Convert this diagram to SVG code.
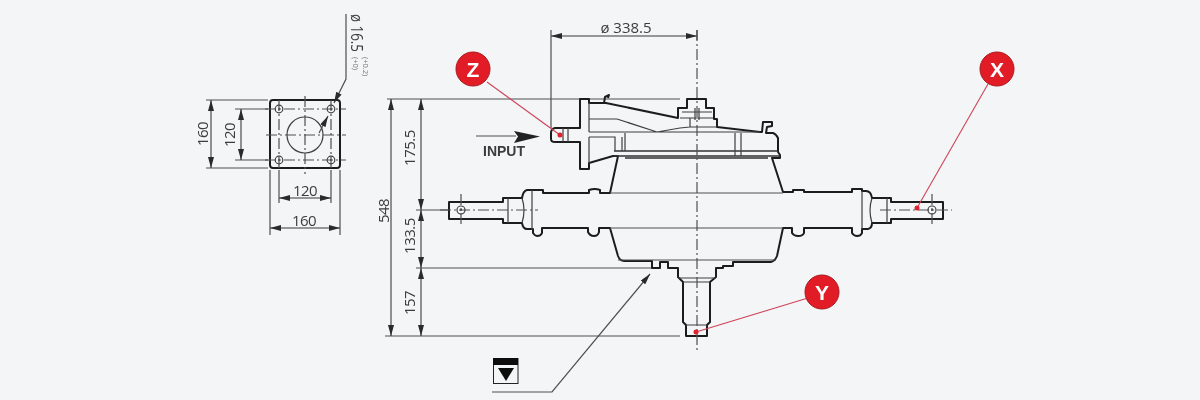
<svg xmlns="http://www.w3.org/2000/svg" width="1200" height="400" viewBox="0 0 1200 400">
<style>
text{font-family:"Open Sans","Noto Sans","Liberation Sans",sans-serif;fill:#3c3c3c}
.d{font-size:15px;text-anchor:middle;letter-spacing:-.5px}
.o{fill:none;stroke:#1f1f1f;stroke-width:2;stroke-linejoin:round}
.i{fill:none;stroke:#3f3f3f;stroke-width:1.200}
.g{fill:none;stroke:#4f4f4f;stroke-width:1.200}
.h{fill:none;stroke:#333;stroke-width:1.500}
.c{fill:none;stroke:#4f4f4f;stroke-width:1.200;stroke-dasharray:11 3 2 3}
.a{fill:none;stroke:#3a3a3a;stroke-width:1.100;marker-start:url(#s);marker-end:url(#e)}
.r{fill:none;stroke:#cf4358;stroke-width:1.100}
.dot{fill:#e0202e}
.b{fill:#e21f26;stroke:#a8161c;stroke-width:1}
.t{font-size:21px;font-weight:700;fill:#fff;text-anchor:middle;font-family:"Liberation Sans",sans-serif}
</style>
<defs>
<marker id="e" markerWidth="12" markerHeight="6" refX="11" refY="3" orient="auto" markerUnits="userSpaceOnUse"><path d="M0 0L11 3L0 6z" fill="#2a2a2a"/></marker>
<marker id="s" markerWidth="12" markerHeight="6" refX="0" refY="3" orient="auto" markerUnits="userSpaceOnUse"><path d="M11 0L0 3L11 6z" fill="#2a2a2a"/></marker>
<filter id="soft" x="0" y="0" width="1200" height="400" filterUnits="userSpaceOnUse"><feGaussianBlur stdDeviation="0.45"/></filter>
</defs>
<rect width="1200" height="400" fill="#f3f5f7"/>
<g filter="url(#soft)">
<g id="flange">
<rect class="o" x="270" y="100" width="70" height="68" rx="3"/>
<circle class="i" cx="305" cy="135" r="18"/>
<g class="i">
<circle cx="279" cy="109" r="3.800"/><circle cx="331" cy="109" r="3.800"/><circle cx="279" cy="160" r="3.800"/><circle cx="331" cy="160" r="3.800"/>
</g>
<g fill="#444"><circle cx="279" cy="109" r="1"/><circle cx="331" cy="109" r="1"/><circle cx="279" cy="160" r="1"/><circle cx="331" cy="160" r="1"/></g>
<path class="c" d="M265 109H346M265 160H346M266 135H346M305 96V174M279 100V170M331 100V170"/>
<path class="g" d="M206 100H268M206 168H268M235 109H268M235 160H268M270 170V235M340 170V235M279 170V203M331 170V203"/>
<path class="a" d="M211 100V168"/><path class="a" d="M241 109V160"/><path class="a" d="M270 228H340"/><path class="a" d="M279 198H331"/>
<text class="d" transform="translate(208 134) rotate(-90)">160</text>
<text class="d" transform="translate(235 135) rotate(-90)">120</text>
<text class="d" x="305" y="196">120</text><text class="d" x="304" y="226">160</text>
<path class="g" d="M346 14V79L334 103" marker-end="url(#e)"/><path class="g" d="M319 133L328 116" marker-end="url(#e)"/>
<text font-size="17" textLength="38" lengthAdjust="spacingAndGlyphs" transform="translate(351 14) rotate(90)">ø 16.5</text>
<text font-size="7.500" style="fill:#777" transform="translate(363 57) rotate(90)">(+0.2)</text>
<text font-size="7.500" style="fill:#777" transform="translate(353 57) rotate(90)">(+0)</text>
</g>
<g id="dimensions">
<path class="g" d="M387 99H680M416 210H450M416 268H652M385 336H680M551 30V128M697 30V40"/>
<path class="a" d="M391 99V336"/><path class="a" d="M421 99V210"/><path class="a" d="M421 210V268"/><path class="a" d="M421 268V336"/><path class="a" d="M551 36H697"/>
<text class="d" style="letter-spacing:0" x="626" y="33">ø 338.5</text>
<text class="d" transform="translate(389 211) rotate(-90)">548</text>
<text class="d" transform="translate(415 148) rotate(-90)">175.5</text>
<text class="d" transform="translate(415 236) rotate(-90)">133.5</text>
<text class="d" transform="translate(415 303) rotate(-90)">157</text>
</g>
<g id="gearbox">
<path class="o" d="M697 99H687V108H678V118L606 103H589V99H580V128H555Q551 129 551 133V139Q551 142 555 142H580V169H589V163L613 156H618L610 193H600V190Q595 188 589 190V193H543V190H527Q523 191 522 198H503V202H449V219H503V223H522Q523 229 527 229H533V233Q535 236 537 236Q541 236 542 233V228H588V232Q590 236 594 236Q598 236 599 232V228H610L618 256Q620 261 624 261H652V268H660V262H668V268H678V277L683 282V322L686 325V336H707V325L710 322V282L716 277V268H723V266H733V262H771Q775 261 777 256L783 228H792V233Q794 236 798 236Q803 236 804 233V228H852V233Q854 236 857 236Q861 236 862 233V229H868Q872 228 872 223H891V219H943V202H891V198H872Q871 191 866 191H862V189H852V192H804V190H793V192H783L772 158H780V155L778 152V138Q776 134 773 133H766L767 127L772 126V122H763L762 132H760L717 127V119H714V108H706V99Z"/>
<path class="o" d="M604 103L605 97L609 95L608 98" stroke-width="1.500"/>
<path class="g" d="M610 193H783M610 228H783M618 260H776"/>
<path class="h" d="M614 151H778M614 156H780M625 158H768"/>
<path class="i" d="M589 103V132M589 137V163M589 119H617L657 132L680 128L690 127H717M589 132H760M589 137H615V151M622 137V151M625 133V151M735 133V156M741 133V156M563 128V142M568 128V142M682 112H712M680 118H713M695 108V120M699 108V120M690 118V127M508 198V223M532 190V230M522 198Q526 210 522 223M862 191V229M872 198Q868 210 872 223M887 198V223M683 282H710M686 325H707M678 278H716"/>
<path class="c" d="M697 30V350M440 210H538M880 210H952M461 194V226M932 194V226"/>
<circle class="i" cx="461" cy="210" r="4"/><circle cx="461" cy="210" r="1" fill="#444"/>
<circle class="i" cx="932" cy="210" r="4"/><circle cx="932" cy="210" r="1" fill="#444"/>
</g>
<g id="input">
<path class="g" d="M476 136H516"/><path d="M514 131L540 136.500L514 143L518 136.500z" fill="#222"/>
<text x="483" y="156" font-size="14" font-weight="700" style="font-family:'Liberation Sans',sans-serif">INPUT</text>
</g>
<g id="datum">
<path class="g" d="M492 392H552L650 274" marker-end="url(#e)"/>
<rect x="493.500" y="358.500" width="24.500" height="25" fill="none" stroke="#222"/>
<rect x="493" y="358" width="25" height="7" fill="#111"/>
<path d="M498 368H514L506 381z" fill="#111"/>
</g>
<g id="callout-z"><path class="r" d="M487 82L560 135"/><circle class="dot" cx="560" cy="135" r="2.500"/><circle class="b" cx="473" cy="69" r="17"/><text class="t" x="473" y="76.500">Z</text></g>
<g id="callout-x"><path class="r" d="M988 84L917 208"/><circle class="dot" cx="917" cy="208" r="2.500"/><circle class="b" cx="997" cy="69" r="17"/><text class="t" x="997" y="76.500">X</text></g>
<g id="callout-y"><path class="r" d="M808 298L696 332"/><circle class="dot" cx="696" cy="332" r="2.500"/><circle class="b" cx="822" cy="292" r="17"/><text class="t" x="822" y="299.500">Y</text></g>
</g>
</svg>
